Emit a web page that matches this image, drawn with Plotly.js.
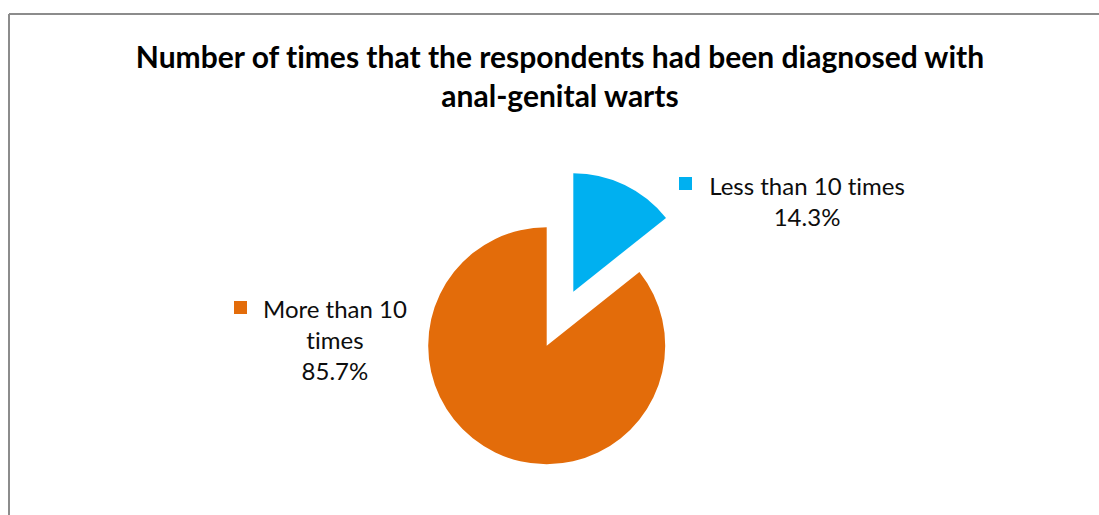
<!DOCTYPE html>
<html>
<head>
<meta charset="utf-8">
<script src="https://cdn.plot.ly/plotly-3.0.1.min.js"></script>
<style>
html,body{margin:0;padding:0;background:#fff;overflow:hidden;}
#chart{width:1099px;height:515px;}
#chart text{font-variant-ligatures:none;font-feature-settings:"liga" 0;}
</style>
</head>
<body>
<div id="chart"></div>
<script>
// Data
const categories = ["Less than 10 times", "More than 10 times"];
const categoryLines = ["Less than 10 times", "More than 10<br>times"];
const percentages = [14.3, 85.7];
const colors = ["#00B0F0", "#E36C0A"];
const chartTitle = "Number of times that the respondents had been diagnosed with<br>anal-genital warts";

const W = 1099, H = 515;
const px = x => x / W;
const py = y => 1 - y / H;
const T = "rgba(0,0,0,0)";

// pie geometry (layout)
const mainC = [546.7, 345.7], mainR = 118.5;
const pullC = [573.3, 291.7], pullR = 118.5;
function dom(c, r) {
  return {x: [px(c[0] - r), px(c[0] + r)], y: [py(c[1] + r), py(c[1] - r)]};
}

const base = {
  type: "pie",
  labels: categories,
  values: percentages,
  sort: false,
  direction: "clockwise",
  rotation: 0,
  textinfo: "none",
  showlegend: false,
  hoverinfo: "label+percent"
};

const traces = [
  Object.assign({}, base, {
    domain: dom(mainC, mainR),
    marker: {colors: colors.map((c, i) => i === 1 ? c : T), line: {width: 0}}
  }),
  Object.assign({}, base, {
    domain: dom(pullC, pullR),
    marker: {colors: colors.map((c, i) => i === 0 ? c : T), line: {width: 0}}
  })
];

const font = "Lato, 'Open Sans', sans-serif";
// label layout: text center, square top-left
const labelPos = [
  {cx: 807, cy: 201, sx: 679, sy: 177},
  {cx: 335, cy: 339, sx: 234, sy: 301}
];
const annotations = categories.map((c, i) => ({
  xref: "paper", yref: "paper",
  x: px(labelPos[i].cx), y: py(labelPos[i].cy),
  xanchor: "center", yanchor: "middle", align: "center",
  showarrow: false,
  text: categoryLines[i] + "<br>" + percentages[i].toFixed(1) + "%",
  font: {family: font, size: 24, color: "#0d0d0d"}
}));
const shapes = categories.map((c, i) => ({
  type: "rect", xref: "paper", yref: "paper",
  x0: px(labelPos[i].sx), x1: px(labelPos[i].sx + 13),
  y0: py(labelPos[i].sy + 13), y1: py(labelPos[i].sy),
  fillcolor: colors[i], line: {width: 0}
}));
shapes.push(
  {type: "line", xref: "paper", yref: "paper", x0: px(9), x1: 1.01, y0: py(14), y1: py(14), line: {color: "#8c8c8c", width: 2}},
  {type: "line", xref: "paper", yref: "paper", x0: px(9), x1: px(9), y0: py(14), y1: -0.01, line: {color: "#8c8c8c", width: 2}}
);

const layout = {
  width: W, height: H,
  margin: {l: 0, r: 0, t: 0, b: 0},
  paper_bgcolor: "#fff",
  title: {
    text: chartTitle,
    xref: "paper", yref: "paper",
    x: px(560), y: py(68), xanchor: "center", yanchor: "middle",
    font: {family: font, size: 30, color: "#000", weight: "bold"}
  },
  annotations: annotations,
  shapes: shapes
};

Plotly.newPlot("chart", traces, layout, {displayModeBar: false, staticPlot: true});
</script>
</body>
</html>
